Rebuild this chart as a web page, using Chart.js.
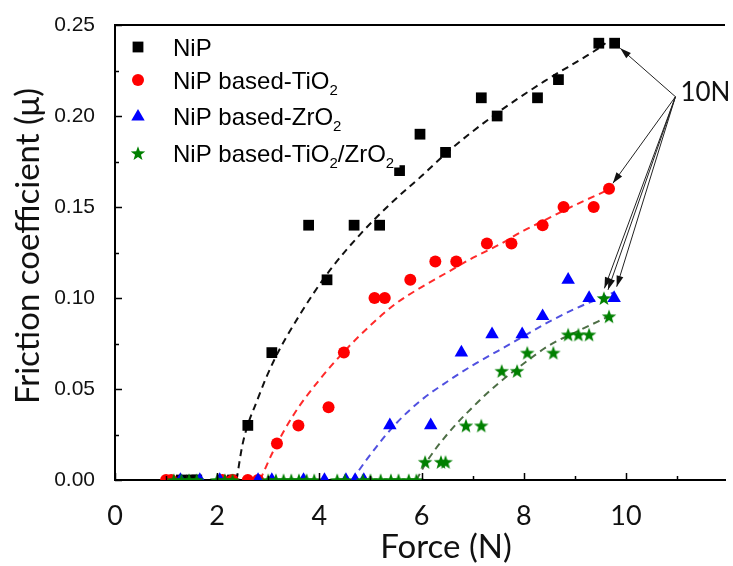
<!DOCTYPE html>
<html>
<head>
<meta charset="utf-8">
<script src="https://cdn.jsdelivr.net/npm/chart.js@4"></script>
<style>
  html, body { margin: 0; padding: 0; background: #fff; }
  #wrap { width: 733px; height: 566px; }
</style>
</head>
<body>
<div id="wrap"><canvas id="friction"></canvas></div>
<script>
// measured points (force N, friction coefficient)
const nipX = [1.3, 1.5, 1.6, 2.3, 2.6, 3.07, 3.79, 4.15, 4.68, 5.18, 5.57, 5.97, 6.47, 7.17, 7.48, 8.27, 8.68, 9.47, 9.78]
const nipY = [0, 0, 0, 0, 0.03, 0.07, 0.14, 0.11, 0.14, 0.14, 0.17, 0.19, 0.18, 0.21, 0.20, 0.21, 0.22, 0.24, 0.24]

const tioX = [1.0, 1.1, 2.1, 2.3, 2.6, 2.8, 3.17, 3.59, 4.18, 4.48, 5.08, 5.28, 5.78, 6.27, 6.68, 7.28, 7.76, 8.37, 8.78, 9.37, 9.67]
const tioY = [0, 0, 0, 0, 0, 0, 0.02, 0.03, 0.04, 0.07, 0.10, 0.10, 0.11, 0.12, 0.12, 0.13, 0.13, 0.14, 0.15, 0.15, 0.16]

const zroX = [1.28, 1.66, 2.05, 2.8, 3.07, 3.69, 4.1, 4.52, 4.7, 4.87, 5.38, 6.18, 6.78, 7.38, 7.97, 8.37, 8.87, 9.28, 9.77]
const zroY = [0, 0, 0, 0, 0, 0, 0, 0, 0, 0, 0.03, 0.03, 0.07, 0.08, 0.08, 0.09, 0.11, 0.10, 0.10]

const mixX = [1.15, 1.3, 1.45, 1.6, 2.0, 2.15, 2.3, 3.0, 3.15, 3.3, 3.45, 3.6, 3.75, 3.9, 4.35, 4.5, 4.85, 5.0, 5.2, 5.4, 5.55, 5.75, 5.9,
  6.07, 6.38, 6.47, 6.87, 7.17, 7.57, 7.87, 8.07, 8.58, 8.87, 9.07, 9.28, 9.57, 9.67]
const mixY = [0, 0, 0, 0, 0, 0, 0, 0, 0, 0, 0, 0, 0, 0, 0, 0, 0, 0, 0, 0, 0, 0, 0,
  0.01, 0.01, 0.01, 0.03, 0.03, 0.06, 0.06, 0.07, 0.07, 0.08, 0.08, 0.08, 0.10, 0.09]

// dashed fit curves
const nipFitX = [2.38, 2.5, 2.8, 3.1, 3.6, 4.2, 4.8, 5.4, 6.0, 6.5, 7.4, 8.4, 9.4, 9.6]
const nipFitY = [0, 0.02, 0.045, 0.065, 0.09, 0.115, 0.135, 0.152, 0.167, 0.18, 0.2, 0.219, 0.236, 0.24]
const tioFitX = [2.84, 3.1, 3.5, 4.0, 4.5, 5.0, 5.5, 6.0, 6.5, 7.0, 7.5, 8.0, 8.5, 9.0, 9.7]
const tioFitY = [0, 0.016, 0.036, 0.055, 0.071, 0.085, 0.097, 0.106, 0.114, 0.122, 0.129, 0.137, 0.144, 0.151, 0.16]
const zroFitX = [4.64, 5.0, 5.5, 6.0, 6.5, 7.0, 7.5, 8.0, 8.5, 9.0, 9.5, 9.76]
const zroFitY = [0, 0.014, 0.031, 0.044, 0.054, 0.063, 0.071, 0.079, 0.087, 0.094, 0.1, 0.103]
const mixFitX = [5.9, 6.1, 6.5, 7.0, 7.5, 8.0, 8.5, 9.0, 9.67]
const mixFitY = [0, 0.01, 0.025, 0.04, 0.053, 0.064, 0.074, 0.081, 0.09]

const seriesNames = ["NiP", "NiP based-TiO_2", "NiP based-ZrO_2", "NiP based-TiO_2/ZrO_2"]
const xTicks = [0, 2, 4, 6, 8, 10]
const xTickLabels = ["0", "2", "4", "6", "8", "10"]
const yTicks = [0, 0.05, 0.10, 0.15, 0.20, 0.25]
const yTickLabels = ["0.00", "0.05", "0.10", "0.15", "0.20", "0.25"]

// "10N" annotation: label anchor and arrow tips
const noteAnchor = [10.97, 0.2106]
const noteTipX = [9.89, 9.745, 9.58, 9.65, 9.82]
const noteTipY = [0.2372, 0.163, 0.1053, 0.1045, 0.1062]

const pts = (xs, ys) => xs.map((x, i) => ({ x, y: ys[i] }))

const makeStar = (color) => {
  const size = 16
  const c = document.createElement("canvas")
  c.width = size
  c.height = size
  const g = c.getContext("2d")
  g.fillStyle = color
  g.beginPath()
  for (let i = 0; i < 10; i++) {
    const r = i % 2 ? 3.1 : 7.6
    const a = -Math.PI / 2 + i * Math.PI / 5
    g.lineTo(size / 2 + r * Math.cos(a), size / 2 + 0.8 + r * Math.sin(a))
  }
  g.closePath()
  g.fill()
  return c
}
const greenStar = makeStar("#008000")

const colors = ["#000000", "#ff0000", "#0000ff", "#008000"]
const fitColors = ["#111111", "#ff2a2a", "#5050e0", "#4d6e45"]
const styles = ["rect", "circle", "triangle", greenStar]
const radii = [7.6, 6, 7.8, 8]

const markerSet = (label, data, i) => ({
  label,
  data,
  showLine: false,
  order: 4 - i,
  clip: 0,
  pointStyle: styles[i],
  pointRadius: radii[i],
  pointHoverRadius: radii[i],
  pointBackgroundColor: colors[i],
  pointBorderColor: colors[i],
  pointBorderWidth: 0
})

const fitSet = (data, i) => ({
  label: "fit" + i,
  data,
  showLine: true,
  order: 10,
  clip: 0,
  pointRadius: 0,
  borderColor: fitColors[i],
  borderWidth: 2,
  borderDash: [7, 5],
  cubicInterpolationMode: "monotone"
})

const framePlugin = {
  id: "frame",
  afterDatasetsDraw(chart) {
    const { ctx, chartArea: a, scales: { x, y } } = chart
    ctx.save()

    // legend box
    ctx.fillStyle = "#fff"
    ctx.fillRect(a.left + 1, a.top + 1, 399.5 - a.left - 1, 167.5 - a.top - 1)
    const rows = [47, 80, 116, 153]
    seriesNames.forEach((name, i) => {
      const cy = rows[i]
      const cx = 138
      ctx.fillStyle = colors[i]
      ctx.beginPath()
      if (i === 0) {
        ctx.rect(cx - 5.4, cy - 5.4, 10.8, 10.8)
      } else if (i === 1) {
        ctx.arc(cx, cy, 6, 0, Math.PI * 2)
      } else if (i === 2) {
        ctx.moveTo(cx, cy - 7)
        ctx.lineTo(cx + 6.7, cy + 4.5)
        ctx.lineTo(cx - 6.7, cy + 4.5)
        ctx.closePath()
      }
      ctx.fill()
      if (i === 3) ctx.drawImage(greenStar, cx - 8, cy - 8)

      // text with subscripts
      let tx = 173
      ctx.fillStyle = "#000"
      ctx.textBaseline = "alphabetic"
      name.split(/(_2)/).forEach(part => {
        if (part === "_2") {
          ctx.font = "15px 'Liberation Sans', Arial, sans-serif"
          ctx.fillText("2", tx, cy + 15)
          tx += ctx.measureText("2").width
        } else if (part) {
          ctx.font = "24px 'Liberation Sans', Arial, sans-serif"
          ctx.fillText(part, tx, cy + 9)
          tx += ctx.measureText(part).width
        }
      })
    })

    // 10N arrows
    const ax = x.getPixelForValue(noteAnchor[0])
    const ay = y.getPixelForValue(noteAnchor[1])
    ctx.strokeStyle = "#222"
    ctx.fillStyle = "#111"
    ctx.lineWidth = 1
    noteTipX.forEach((tv, i) => {
      const tx = x.getPixelForValue(tv)
      const ty = y.getPixelForValue(noteTipY[i])
      const ang = Math.atan2(ty - ay, tx - ax)
      ctx.beginPath()
      ctx.moveTo(ax, ay)
      ctx.lineTo(tx, ty)
      ctx.stroke()
      ctx.beginPath()
      ctx.moveTo(tx, ty)
      ctx.lineTo(tx - 11 * Math.cos(ang) + 3.5 * Math.sin(ang), ty - 11 * Math.sin(ang) - 3.5 * Math.cos(ang))
      ctx.lineTo(tx - 11 * Math.cos(ang) - 3.5 * Math.sin(ang), ty - 11 * Math.sin(ang) + 3.5 * Math.cos(ang))
      ctx.closePath()
      ctx.fill()
    })
    ctx.fillStyle = "#111"
    ctx.font = "26px Lato, sans-serif"
    ctx.textBaseline = "middle"
    ctx.textAlign = "left"
    ctx.fillText("10N", ax + 5, ay - 4)

    ctx.restore()
  },
  afterDraw(chart) {
    const { ctx, chartArea: a, scales: { x, y } } = chart
    ctx.save()
    ctx.strokeStyle = "#000"

    // top frame line
    ctx.lineWidth = 2
    ctx.beginPath()
    ctx.moveTo(a.left - 1, a.top)
    ctx.lineTo(a.right, a.top)
    ctx.stroke()

    // inward ticks
    ctx.lineWidth = 1.5
    ctx.beginPath()
    for (let i = 0; i < yTicks.length; i++) {
      const py = Math.round(y.getPixelForValue(yTicks[i])) + 0.5
      ctx.moveTo(a.left, py)
      ctx.lineTo(a.left + 7, py)
      if (i < yTicks.length - 1) {
        const my = Math.round(y.getPixelForValue((yTicks[i] + yTicks[i + 1]) / 2)) + 0.5
        ctx.moveTo(a.left, my)
        ctx.lineTo(a.left + 4, my)
      }
    }
    for (let v = 0; v <= x.max; v += 1) {
      const px = Math.round(x.getPixelForValue(v)) + 0.5
      ctx.moveTo(px, a.bottom)
      ctx.lineTo(px, a.bottom - (v % 2 === 0 ? 7 : 4))
    }
    ctx.stroke()

    // axis titles
    ctx.fillStyle = "#111"
    ctx.textAlign = "center"
    ctx.textBaseline = "middle"
    ctx.font = "33px Lato, sans-serif"
    ctx.fillText("Force (N)", 446, 547)
    ctx.translate(28, 246)
    ctx.rotate(-Math.PI / 2)
    ctx.fillText("Friction coefficient (\u03bc)", 0, 0)
    ctx.restore()
  }
}

new Chart(document.getElementById("friction"), {
  type: "scatter",
  data: {
    datasets: [
      markerSet(seriesNames[0], pts(nipX, nipY), 0),
      markerSet(seriesNames[1], pts(tioX, tioY), 1),
      markerSet(seriesNames[2], pts(zroX, zroY), 2),
      markerSet(seriesNames[3], pts(mixX, mixY), 3),
      fitSet(pts(nipFitX, nipFitY), 0),
      fitSet(pts(tioFitX, tioFitY), 1),
      fitSet(pts(zroFitX, zroFitY), 2),
      fitSet(pts(mixFitX, mixFitY), 3)
    ]
  },
  options: {
    responsive: true,
    maintainAspectRatio: false,
    animation: false,
    layout: { padding: { top: 25, left: 0, right: 0, bottom: 0 } },
    plugins: {
      legend: { display: false },
      tooltip: { enabled: false }
    },
    scales: {
      x: {
        type: "linear",
        min: 0,
        max: 11.94,
        afterBuildTicks: s => { s.ticks = xTicks.map(v => ({ value: v })) },
        afterFit: s => { s.height = 86 },
        grid: { display: false },
        border: { color: "#000", width: 2 },
        ticks: {
          color: "#111",
          padding: 12,
          maxRotation: 0,
          font: { family: "Lato", size: 27 },
          callback: (v, i) => xTickLabels[i]
        }
      },
      y: {
        min: 0,
        max: 0.25,
        afterBuildTicks: s => { s.ticks = yTicks.map(v => ({ value: v })) },
        afterFit: s => { s.width = 115 },
        grid: { display: false },
        border: { color: "#000", width: 2 },
        ticks: {
          color: "#111",
          padding: 12,
          font: { family: "'Liberation Sans'", size: 21 },
          callback: (v, i) => yTickLabels[i]
        }
      }
    }
  },
  plugins: [framePlugin]
})
</script>
</body>
</html>
